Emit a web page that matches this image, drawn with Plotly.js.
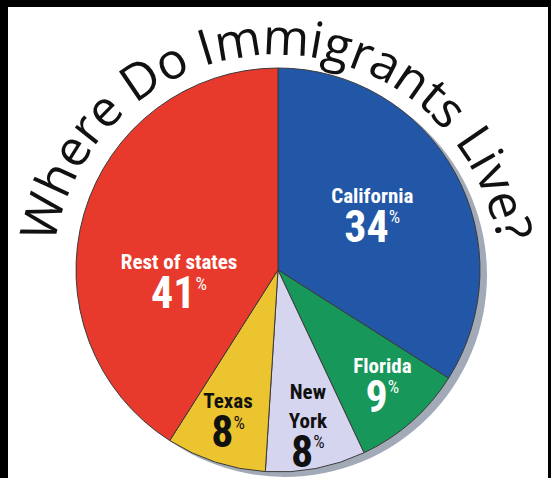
<!DOCTYPE html>
<html>
<head>
<meta charset="utf-8">
<script src="https://cdn.plot.ly/plotly-3.0.1.min.js"></script>
<style>
html,body{margin:0;padding:0;background:#000;}
#chart{width:551px;height:478px;}
</style>
</head>
<body>
<div id="chart"></div>
<script>
// ---- data ----
const states = ['California', 'Florida', 'New York', 'Texas', 'Rest of states'];
const shares = [34, 9, 8, 8, 41];
const nameLines = [['California'], ['Florida'], ['New', 'York'], ['Texas'], ['Rest of states']];
const sliceColors = ['#2157a6', '#17975a', '#d5d5ef', '#ebc42f', '#e83a2c'];
const labelColors = ['#ffffff', '#ffffff', '#111111', '#111111', '#ffffff'];
const titleText = 'Where Do Immigrants Live?';

// ---- geometry / style ----
const W = 551, H = 478;
const pieCx = 278, pieCy = 270, pieR = 202;
const padTopLines = [0, 0, 0, 0, 2];   // blank lines that push a label lower in its slice
const dom = (cx, cy, r) => ({
  x: [(cx - r) / W, (cx + r) / W],
  y: [1 - (cy + r) / H, 1 - (cy - r) / H]
});

const shadow = {
  type: 'pie',
  values: [1],
  labels: ['shadow'],
  marker: {colors: ['#a2aab8'], line: {width: 0}},
  textinfo: 'none',
  hoverinfo: 'skip',
  sort: false,
  domain: dom(pieCx + 7, pieCy + 5, pieR),
  showlegend: false
};

// label templates: small name line(s), big number with a small raised "%"
const nameSpan = t => '<span style="font-size:21px">' + t + '</span>';
const templates = nameLines.map((lines, k) => {
  const names = lines.map((t, i) =>
    (lines.length > 1 && i === 0) ? '<sub><sub>' + nameSpan(t) + '</sub></sub>' : nameSpan(t));
  const pad = Array(padTopLines[k]).fill('\u00a0');
  return pad.concat(names).join('<br>') +
    '<br><span style="font-size:44px">%{value}<sup><span style="font-size:18px;font-weight:normal">%</span></sup></span>';
});

const labelFont = '"Roboto Condensed", Roboto, sans-serif';
const pie = {
  type: 'pie',
  labels: states,
  values: shares,
  sort: false,
  direction: 'clockwise',
  rotation: 0,
  marker: {colors: sliceColors, line: {color: '#3a3a3a', width: 1}},
  textinfo: 'value',
  texttemplate: templates,
  textposition: 'inside',
  insidetextorientation: 'horizontal',
  textfont: {family: labelFont, size: 30, color: labelColors, weight: 'bold'},
  hoverinfo: 'label+percent',
  domain: dom(pieCx, pieCy, pieR),
  showlegend: false
};

// ---- curved title built from per-character annotations ----
const arc = {cx: 276, cy: 279, r: 226, fs: 50, lift: 0.35};
const ctx = document.createElement('canvas').getContext('2d');
ctx.font = arc.fs + 'px "Open Sans"';
const chars = Array.from(titleText);
const widths = chars.map(c => ctx.measureText(c).width);
const total = widths.reduce((a, b) => a + b, 0);
let s = -total / 2;
const annotations = [];
chars.forEach((c, i) => {
  const mid = s + widths[i] / 2;
  s += widths[i];
  if (c === ' ') return;
  const th = mid / arc.r;
  const rr = arc.r + arc.lift * arc.fs;
  const px = arc.cx + rr * Math.sin(th);
  const py = arc.cy - rr * Math.cos(th);
  annotations.push({
    text: c, x: px / W, y: 1 - py / H, xref: 'paper', yref: 'paper',
    showarrow: false, xanchor: 'center', yanchor: 'middle',
    textangle: th * 180 / Math.PI,
    font: {family: '"Open Sans", sans-serif', size: arc.fs, color: '#111111'}
  });
});

const layout = {
  width: W, height: H,
  margin: {l: 0, r: 0, t: 0, b: 0},
  paper_bgcolor: '#000000',
  showlegend: false,
  uniformtext: {mode: 'show', minsize: 30},
  shapes: [{type: 'rect', xref: 'paper', yref: 'paper', x0: 8 / W, x1: 548 / W, y0: 0, y1: 1 - 7 / H,
    fillcolor: '#ffffff', line: {width: 0}, layer: 'below'}],
  annotations: annotations
};

Plotly.newPlot('chart', [shadow, pie], layout, {displayModeBar: false, responsive: false});
</script>
</body>
</html>
